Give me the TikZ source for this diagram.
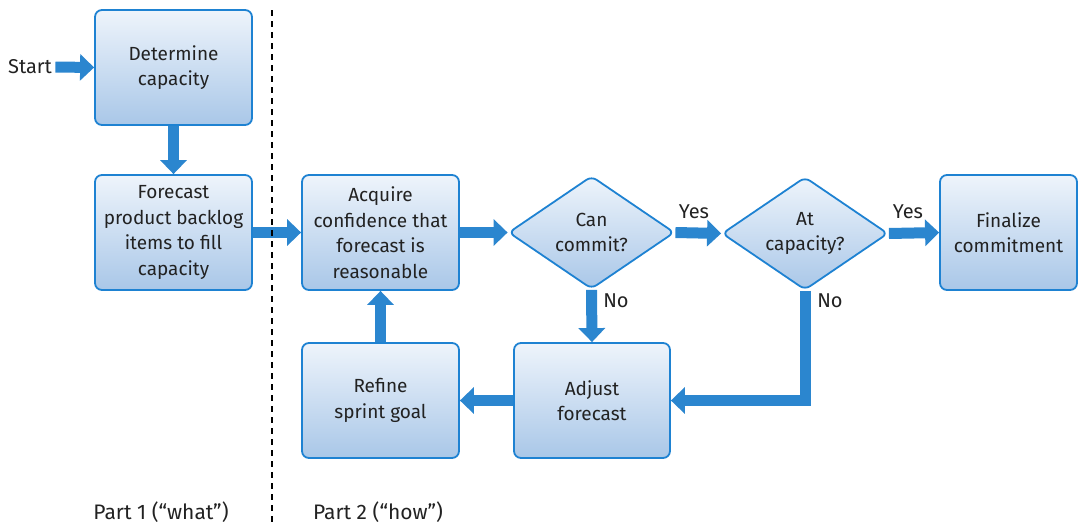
\documentclass[tikz,border=0pt]{standalone}
\usepackage{fontspec}
\setmainfont{Fira Sans}
\usetikzlibrary{shapes.geometric,arrows.meta,backgrounds}
\definecolor{edgec}{HTML}{1E82D2}
\definecolor{topc}{HTML}{EEF4FB}
\definecolor{botc}{HTML}{A9C7E8}
\definecolor{arrc}{HTML}{2B86CF}
\definecolor{txt}{HTML}{222222}
\tikzset{
  box/.style={draw=edgec, line width=1.8pt, rounded corners=7pt, top color=topc, bottom color=botc,
    minimum width=157pt, minimum height=115pt, align=center, inner sep=2pt,
    font=\fontsize{19}{25.5}\selectfont, text=txt},
  dec/.style={diamond, draw=edgec, line width=1.8pt, rounded corners=6pt, top color=topc, bottom color=botc,
    minimum width=166pt, minimum height=113pt, aspect=1.47, inner sep=0pt, align=center,
    font=\fontsize{19}{25.5}\selectfont, text=txt},
  flow/.style={draw=arrc, line width=11pt, line join=miter, -{Triangle[length=14pt, width=26pt]}},
  lab/.style={font=\fontsize{20}{22}\selectfont, text=txt},
  part/.style={font=\fontsize{21}{24}\selectfont, text=txt},
  divider/.style={draw=black, line width=1.3pt, dash pattern=on 6pt off 5pt}
}
\begin{document}
\begin{tikzpicture}[x=1pt, y=-1pt]
\useasboundingbox (0,0) rectangle (1079,530);
\node[lab] (start) at (30,67) {Start};
\node[box] (det) at (173.5,67.5) {Determine\\capacity};
\node[box] (fc) at (173.5,232.5) {Forecast\\product backlog\\items to fill\\capacity};
\node[box] (acq) at (380.5,232.5) {Acquire\\confidence that\\forecast is\\reasonable};
\node[dec] (can) at (591.5,232.5) {Can\\commit?};
\node[dec] (atc) at (805,233.5) {At\\capacity?};
\node[box, minimum width=137pt] (fin) at (1008.5,232.5) {Finalize\\commitment};
\node[box] (ref) at (380.5,400.5) {Refine\\sprint goal};
\node[box, minimum width=156pt] (adj) at (592,400.5) {Adjust\\forecast};
\node[lab] (yes1) at (694,212) {Yes};
\node[lab] (yes2) at (908,212) {Yes};
\node[lab] (no1) at (616,301) {No};
\node[lab] (no2) at (830,301) {No};
\node[part] (p1) at (161,512) {Part 1 (“what”)};
\node[part] (p2) at (378,512) {Part 2 (“how”)};
\coordinate (dtop) at (272,10);
\coordinate (dbot) at (272,526);
\draw[divider] (dtop) -- (dbot);
\begin{scope}[on background layer]
\draw[flow] (start.east) -- (det.west);
\draw[flow] (det.south) -- (fc.north);
\draw[flow] (fc.east) -- (acq.west);
\draw[flow] (acq.east) -- (can.west);
\draw[flow] (can.east) -- (atc.west);
\draw[flow] (atc.east) -- (fin.west);
\draw[flow] (can.south) -- (adj.north);
\draw[flow] (atc.south) |- (adj.east);
\draw[flow] (adj.west) -- (ref.east);
\draw[flow] (ref.north) -- (acq.south);
\end{scope}
\end{tikzpicture}
\end{document}
